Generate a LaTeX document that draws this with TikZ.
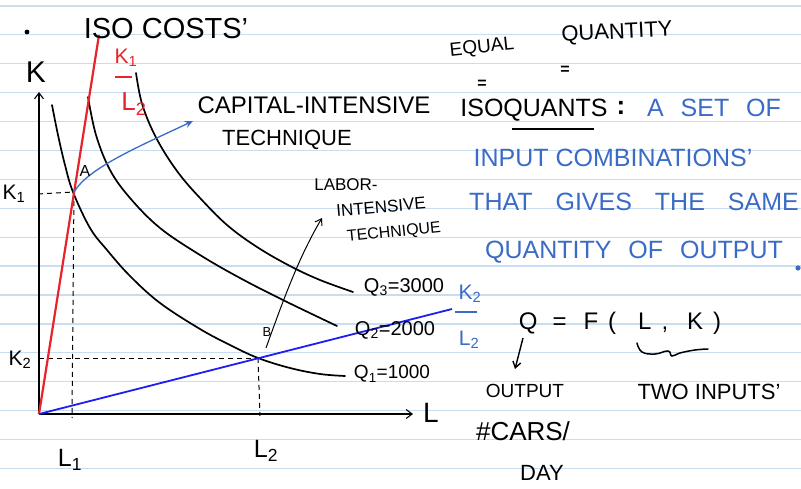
\documentclass[tikz,border=0pt]{standalone}
\usepackage{fontspec}
\setmainfont{Liberation Sans}
\usetikzlibrary{arrows.meta}
\definecolor{paperline}{HTML}{C8DDF0}
\definecolor{inkred}{HTML}{E8232B}
\definecolor{inkblue}{HTML}{1E1EF0}
\definecolor{penblue}{HTML}{3A6BC6}
\begin{document}
\begin{tikzpicture}[x=1pt,y=-1pt,
  hw/.style={font=\fontsize{#1}{#1}\selectfont, inner sep=0pt, anchor=center},
  curve/.style={line width=1.7pt, line cap=round},
  guide/.style={dashed, dash pattern=on 5pt off 4pt, line width=1pt},
  barb/.style={-{Straight Barb[length=6pt,width=9pt]}}]
\useasboundingbox (0,0) rectangle (801,489);
\fill[white] (0,0) rectangle (801,489);
% ruled paper
\foreach \i in {0,...,16}
  \draw[paperline, line width=1.2pt] (0,{6+28.9*\i}) -- (801,{6+28.9*\i});

% key points
\coordinate (O) at (39,414);
\coordinate (Ktop) at (39,92);
\coordinate (Lend) at (413,414);
\coordinate (A) at (74,192);
\coordinate (B) at (258,358);
\coordinate (Rtop) at (99,35);
\coordinate (Bend) at (452,309);
\coordinate (K1t) at (38,194);
\coordinate (L1b) at (72,418);
\coordinate (K2t) at (39,358);
\coordinate (L2b) at (260,416);

% axes
\draw[barb, line width=1.1pt] (O) -- (Ktop);
\draw[barb, line width=1.1pt] (O) -- (Lend);

% guides
\draw[guide] (K1t) -- (A);
\draw[guide] (A) -- (L1b);
\draw[guide] (K2t) -- (B);
\draw[guide] (B) -- (L2b);

% isoquants
\draw[curve] plot[smooth, tension=0.6] coordinates {(52,105) (58,135) (65,165) (73,192) (90,228) (107,250) (130,276) (160,303) (200,329) (230,345) (258,358) (290,368) (320,374) (345,376)};
\draw[curve] plot[smooth, tension=0.6] coordinates {(88,97) (96,135) (110,170) (130,198) (160,228) (200,255) (240,278) (285,301) (337,326)};
\draw[curve] plot[smooth, tension=0.6] coordinates {(136,73) (141,100) (150,125) (163,150) (180,175) (200,198) (227,225) (257,247) (290,266) (320,280) (353,292)};

% isocost rays
\draw[inkred, line width=2.2pt] (O) -- (Rtop);
\draw[inkblue, line width=1.8pt] (O) -- (Bend);

% arrows to technique labels
\coordinate (capT) at (193,121);
\draw[penblue, line width=1.3pt, -{Stealth[length=8pt,width=7pt]}] (A) .. controls (88,168) and (140,146) .. (capT);
\coordinate (labS) at (266,348);
\coordinate (labT) at (322,218);
\draw[line width=1pt, -{Straight Barb[length=6pt,width=8pt]}] (labS) .. controls (285,295) and (300,255) .. (labT);

% point labels
\node[hw=16] (Alab) at (85,171) {A};
\node[hw=13] (Blab) at (267,332) {B};
\fill (27,32) circle (2.4pt);
\node[hw=30] (Klab) at (36,72) {K};
\node[hw=28] (Llab) at (431,413) {L};
\node[hw=21] (K1lab) at (14,194) {K\textsubscript{1}};
\node[hw=21] (K2lab) at (20,360) {K\textsubscript{2}};
\node[hw=25] (L1lab) at (70,460) {L\textsubscript{1}};
\node[hw=25] (L2lab) at (266,451) {L\textsubscript{2}};

% title
\node[hw=29] (title) at (166,29) {ISO COSTS'};

% slope labels
\node[hw=21, text=inkred] (rk) at (126,58) {K\textsubscript{1}};
\draw[inkred, line width=1.8pt] (115,77) -- (132,77);
\node[hw=26, text=inkred] (rl) at (134,104) {L\textsubscript{2}};
\node[hw=21, text=penblue] (bk) at (470,294) {K\textsubscript{2}};
\draw[penblue, line width=1.8pt] (455,312) -- (477,312);
\node[hw=21, text=penblue] (bl) at (469,340) {L\textsubscript{2}};

% technique labels
\node[hw=24] (cap1) at (314,105) {CAPITAL-INTENSIVE};
\node[hw=22] (cap2) at (287,140) {TECHNIQUE};
\node[hw=17] (lab1) at (346,185) {LABOR-};
\node[hw=17, rotate=5] (lab2) at (381,207) {INTENSIVE};
\node[hw=16, rotate=6] (lab3) at (394,233) {TECHNIQUE};

% isoquant labels
\node[hw=20] (q3) at (404,287) {Q\textsubscript{3}=3000};
\node[hw=20] (q2) at (395,330) {Q\textsubscript{2}=2000};
\node[hw=19] (q1) at (392,374) {Q\textsubscript{1}=1000};

% right-hand notes
\node[hw=19, rotate=6] (equal) at (482,48) {EQUAL};
\node[hw=22, rotate=3] (quant) at (617,33) {QUANTITY};
\node[hw=16, font=\fontsize{16}{16}\selectfont\bfseries] (eq1) at (482,84) {=};
\node[hw=16, font=\fontsize{16}{16}\selectfont\bfseries] (eq2) at (565,70) {=};
\node[hw=25] (iso) at (534,110) {ISOQUANTS};
\draw[line width=1.6pt] (512,129) -- (594,129);
\node[hw=26, font=\fontsize{26}{26}\selectfont\bfseries] (colon) at (621,108) {:};
\node[hw=25, text=penblue] (d1) at (714,108) {A\hspace{10pt} SET\hspace{10pt} OF};
\node[hw=25, text=penblue] (d2) at (613,158) {INPUT COMBINATIONS'};
\node[hw=25, text=penblue] (d3) at (634,202) {THAT\hspace{16pt} GIVES\hspace{16pt} THE\hspace{16pt} SAME};
\node[hw=25, text=penblue] (d4) at (634,252) {QUANTITY\hspace{10pt} OF\hspace{10pt} OUTPUT};
\fill[penblue] (798,268) circle (2.6pt);

% production function
\node[hw=24] (qf) at (620,323) {Q\hspace{15pt}=\hspace{17pt}F\hspace{10pt}(\hspace{22pt}L\hspace{10pt},\hspace{19pt}K\hspace{10pt})};
\draw[line width=1.5pt, line cap=round] plot[smooth, tension=0.7] coordinates {(637,343) (642,352) (655,354) (668,351) (672,356) (680,353) (695,350) (708,349)};
\coordinate (qfS) at (523,338);
\coordinate (qfT) at (515,369);
\draw[line width=1.4pt, -{Straight Barb[length=6pt,width=8pt]}] (qfS) -- (qfT);
\node[hw=19] (out) at (525,391) {OUTPUT};
\node[hw=26] (cars) at (523,431) {\#CARS/};
\node[hw=22] (day) at (542,473) {DAY};
\node[hw=22] (two) at (709,392) {TWO INPUTS'};
\end{tikzpicture}
\end{document}
